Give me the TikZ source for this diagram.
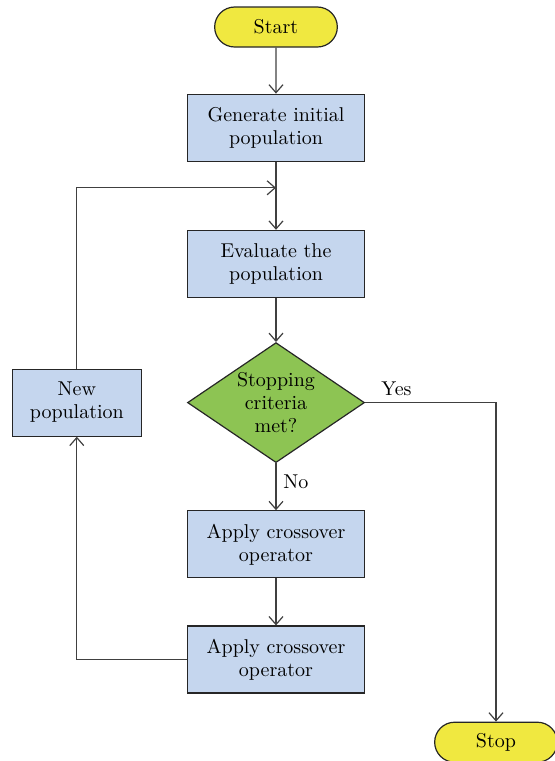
\documentclass[tikz,border=0pt]{standalone}
\usepackage{tikz}
\usetikzlibrary{shapes,positioning,arrows.meta}
\definecolor{termyellow}{RGB}{240,232,64}
\definecolor{boxblue}{RGB}{197,214,238}
\definecolor{decgreen}{RGB}{141,196,83}
\definecolor{linegray}{RGB}{64,64,64}

\begin{document}
\begin{tikzpicture}[->,>={Straight Barb[length=4pt,width=7pt]},semithick,node distance=23.5pt,
                    font=\fontsize{10}{11.5}\selectfont,
                    term/.style={rounded rectangle,draw=black!85,fill=termyellow,
                                 text=black,minimum width=68pt,minimum height=20pt},
                    proc/.style={rectangle,draw=black!85,fill=boxblue,text=black,
                                 minimum width=88.5pt,minimum height=33.5pt,align=center},
                    decision/.style={diamond,aspect=1.475,draw=black!85,fill=decgreen,
                                 text=black,inner sep=0pt,align=center,
                                 minimum width=88.5pt,minimum height=60pt}]

  \useasboundingbox (-138pt,13.5pt) rectangle (139pt,-367pt);

  \node[term]     (start)                      {Start};
  \node[proc]     (gen)    [below=23pt of start] {Generate initial\\population};
  \node[proc]     (eval)   [below=34pt of gen] {Evaluate the\\population};
  \node[decision] (test)   [below=22pt of eval] {Stopping\\criteria\\met?};
  \node[proc]     (cross1) [below=of test]     {Apply crossover\\operator};
  \node[proc]     (cross2) [below=of cross1]   {Apply crossover\\operator};
  \node[proc,minimum width=64.5pt] (newpop) [left=22.5pt of test] {New\\population};
  \node[term,anchor=north] (stop) at ([xshift=110pt,yshift=-14pt]cross2.south) {Stop};
  \coordinate (merge) at ([yshift=-13pt]gen.south);

  \path[linegray] (start)  edge (gen)
                  (gen)    edge (eval)
                  (eval)   edge (test)
                  (test)   edge node[right,pos=0.4,text=black] {No} (cross1)
                  (cross1) edge (cross2);

  \draw[linegray] (test.east) -| node[above,pos=0.12,text=black] {Yes} (stop.north);
  \draw[linegray] (cross2.west) -| (newpop.south);
  \draw[linegray] (newpop.north) |- (merge);
\end{tikzpicture}
\end{document}
